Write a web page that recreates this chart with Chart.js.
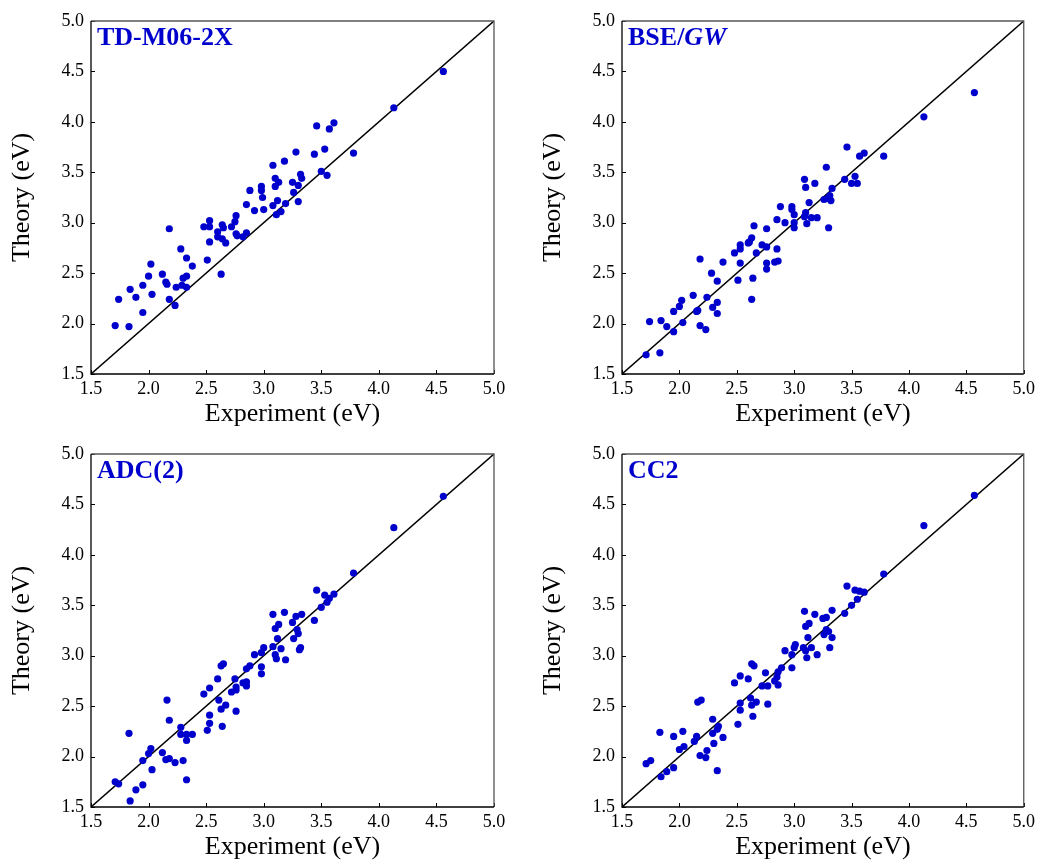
<!DOCTYPE html>
<html>
<head>
<meta charset="utf-8">
<script src="https://cdn.jsdelivr.net/npm/chart.js@4.4.1/dist/chart.umd.min.js"></script>
<style>
  html, body { margin: 0; padding: 0; background: #fff; overflow: hidden; }
  body { width: 1039px; height: 863px; position: relative; }
  canvas { position: absolute; }
</style>
</head>
<body>
<canvas id="c1" width="520" height="432" style="left:0;top:0"></canvas>
<canvas id="c2" width="508" height="432" style="left:531px;top:0"></canvas>
<canvas id="c3" width="520" height="432" style="left:0;top:433px"></canvas>
<canvas id="c4" width="508" height="432" style="left:531px;top:433px"></canvas>
<script>
// ================= DATA =================
// [experiment, theory] pairs in eV
const tdM062x = [
  [4.56,4.50],[4.13,4.14],[3.46,3.96],[3.61,3.99],[3.57,3.93],[3.78,3.69],[3.53,3.73],[3.44,3.68],
  [3.28,3.70],[3.18,3.61],[3.08,3.57],[3.50,3.51],[3.55,3.47],[3.32,3.48],[3.33,3.44],[3.10,3.44],
  [3.13,3.40],[3.25,3.40],[3.30,3.37],[2.98,3.36],[2.88,3.32],[2.98,3.32],[3.10,3.36],[3.26,3.30],
  [2.99,3.25],[3.12,3.22],[3.30,3.21],[2.85,3.18],[3.08,3.17],[3.19,3.19],[2.92,3.12],[3.00,3.13],
  [3.15,3.11],[3.11,3.08],[2.76,3.07],[2.75,3.01],[2.53,3.02],[2.48,2.96],[2.53,2.96],[2.64,2.98],
  [2.65,2.95],[2.72,2.96],[2.18,2.94],[2.60,2.91],[2.76,2.89],[2.77,2.87],[2.85,2.90],[2.82,2.86],
  [2.60,2.86],[2.64,2.84],[2.67,2.80],[2.53,2.81],[2.28,2.74],[2.33,2.65],[2.51,2.63],[2.02,2.59],
  [2.38,2.57],[2.12,2.49],[2.63,2.49],[2.00,2.47],[2.33,2.47],[2.30,2.45],[2.15,2.41],[2.16,2.39],
  [1.95,2.38],[1.84,2.34],[2.24,2.36],[2.29,2.38],[2.33,2.36],[2.03,2.29],[1.89,2.26],[1.74,2.24],
  [2.18,2.24],[2.23,2.18],[1.95,2.11],[1.71,1.98],[1.83,1.97]
];
const bseGw = [
  [4.57,4.29],[4.13,4.05],[3.46,3.75],[3.61,3.69],[3.57,3.66],[3.78,3.66],[3.28,3.55],[3.09,3.43],
  [3.44,3.43],[3.53,3.46],[3.50,3.39],[3.55,3.39],[3.18,3.39],[3.10,3.35],[3.33,3.34],[3.31,3.27],
  [3.26,3.23],[3.32,3.22],[3.29,3.24],[3.13,3.20],[2.88,3.16],[2.98,3.16],[2.98,3.13],[3.00,3.08],
  [3.10,3.10],[3.09,3.06],[3.15,3.05],[3.20,3.05],[2.85,3.03],[2.92,3.00],[3.00,3.00],[3.00,2.95],
  [3.11,2.99],[3.30,2.95],[2.65,2.97],[2.76,2.94],[2.63,2.85],[2.61,2.81],[2.60,2.80],[2.53,2.78],
  [2.53,2.74],[2.72,2.78],[2.76,2.76],[2.85,2.74],[2.48,2.70],[2.67,2.70],[2.18,2.64],[2.38,2.61],
  [2.53,2.60],[2.76,2.60],[2.83,2.61],[2.86,2.62],[2.76,2.54],[2.28,2.50],[2.33,2.42],[2.51,2.43],
  [2.64,2.45],[2.12,2.28],[2.24,2.26],[2.02,2.23],[2.00,2.17],[2.63,2.24],[2.33,2.21],[2.29,2.16],
  [2.16,2.13],[2.15,2.12],[1.95,2.12],[2.33,2.10],[1.74,2.02],[1.84,2.03],[2.03,2.01],[1.89,1.97],
  [2.18,1.98],[2.23,1.94],[1.95,1.92],[1.71,1.69],[1.83,1.71]
];
const adc2 = [
  [4.56,4.58],[4.13,4.27],[3.78,3.82],[3.46,3.65],[3.53,3.60],[3.61,3.61],[3.57,3.57],[3.55,3.53],
  [3.50,3.48],[3.44,3.35],[3.08,3.41],[3.18,3.43],[3.28,3.39],[3.33,3.41],[3.25,3.33],[3.13,3.31],
  [3.10,3.27],[3.29,3.26],[3.30,3.22],[3.26,3.17],[3.12,3.17],[3.08,3.09],[3.00,3.08],[3.15,3.07],
  [3.32,3.08],[3.31,3.06],[2.98,3.03],[2.92,3.01],[3.10,3.01],[3.11,2.97],[3.19,2.96],[2.88,2.90],
  [2.85,2.87],[2.98,2.89],[2.63,2.90],[2.65,2.92],[2.98,2.82],[2.60,2.77],[2.75,2.77],[2.82,2.73],
  [2.85,2.74],[2.85,2.70],[2.53,2.68],[2.48,2.62],[2.76,2.69],[2.76,2.66],[2.72,2.64],[2.16,2.56],
  [2.61,2.56],[2.67,2.51],[2.63,2.47],[2.76,2.45],[2.53,2.41],[2.18,2.36],[2.53,2.33],[2.64,2.30],
  [2.28,2.29],[2.51,2.26],[1.83,2.23],[2.28,2.22],[2.33,2.22],[2.38,2.22],[2.33,2.16],[2.02,2.08],
  [2.00,2.03],[2.12,2.04],[1.95,1.96],[2.15,1.97],[2.18,1.98],[2.23,1.94],[2.30,1.96],[2.03,1.87],
  [1.71,1.75],[1.74,1.73],[2.33,1.77],[1.95,1.72],[1.89,1.67],[1.84,1.56]
];
const cc2 = [
  [4.57,4.59],[4.13,4.29],[3.78,3.81],[3.46,3.69],[3.53,3.65],[3.57,3.64],[3.61,3.63],[3.55,3.56],
  [3.50,3.50],[3.44,3.42],[3.09,3.44],[3.33,3.45],[3.18,3.41],[3.25,3.37],[3.28,3.38],[3.13,3.32],
  [3.10,3.29],[3.28,3.26],[3.30,3.24],[3.26,3.21],[3.12,3.18],[3.33,3.18],[3.01,3.11],[3.00,3.08],
  [3.08,3.08],[3.15,3.08],[3.31,3.08],[2.92,3.05],[3.10,3.05],[2.98,3.01],[3.20,3.01],[3.11,2.98],
  [2.63,2.92],[2.65,2.90],[2.89,2.88],[2.98,2.88],[2.75,2.83],[2.86,2.84],[2.85,2.79],[2.53,2.80],
  [2.60,2.77],[2.83,2.75],[2.48,2.73],[2.86,2.71],[2.72,2.70],[2.77,2.70],[2.16,2.54],[2.19,2.56],
  [2.62,2.58],[2.67,2.54],[2.53,2.53],[2.63,2.51],[2.77,2.52],[2.53,2.46],[2.64,2.40],[2.29,2.37],
  [2.51,2.32],[2.34,2.30],[2.33,2.27],[2.29,2.23],[1.83,2.24],[2.03,2.25],[1.95,2.20],[2.15,2.20],
  [2.38,2.19],[2.13,2.15],[2.30,2.13],[2.04,2.10],[2.00,2.07],[2.24,2.06],[2.18,2.01],[2.23,1.99],
  [1.75,1.96],[1.71,1.93],[1.95,1.89],[1.89,1.85],[1.84,1.80],[2.33,1.86]
];
const axisMin = 1.5;
const axisMax = 5.0;
const axisStep = 0.5;

const FONT = '"Liberation Serif", "Times New Roman", serif';
const BLUE = '#0000CD';

// ================= FRAME / TICKS / LABEL PLUGIN =================
const framePlugin = {
  id: 'frame',
  afterDraw(chart, args, opts) {
    const { ctx, chartArea: a, scales } = chart;
    ctx.save();
    // inward tick marks
    ctx.strokeStyle = '#000';
    ctx.lineWidth = 1;
    ctx.beginPath();
    scales.x.ticks.forEach(t => {
      const px = Math.round(scales.x.getPixelForValue(t.value)) + 0.5;
      ctx.moveTo(px, a.bottom);
      ctx.lineTo(px, a.bottom - 4);
    });
    scales.y.ticks.forEach(t => {
      const py = Math.round(scales.y.getPixelForValue(t.value)) + 0.5;
      ctx.moveTo(a.left, py);
      ctx.lineTo(a.left + 4, py);
    });
    ctx.stroke();
    // box
    ctx.lineWidth = 1.3;
    ctx.strokeStyle = '#555';
    ctx.beginPath();
    ctx.moveTo(a.left, a.top);
    ctx.lineTo(a.right, a.top);
    ctx.lineTo(a.right, a.bottom);
    ctx.stroke();
    ctx.strokeStyle = '#000';
    ctx.beginPath();
    ctx.moveTo(a.left, a.top);
    ctx.lineTo(a.left, a.bottom);
    ctx.lineTo(a.right, a.bottom);
    ctx.stroke();
    // method label
    ctx.fillStyle = BLUE;
    ctx.textBaseline = 'alphabetic';
    ctx.textAlign = 'left';
    let tx = a.left + 6;
    const ty = a.top + 24;
    (opts.label || []).forEach(part => {
      ctx.font = (part.italic ? 'italic ' : '') + 'bold 26px ' + FONT;
      ctx.fillText(part.text, tx, ty);
      tx += ctx.measureText(part.text).width;
    });
    ctx.restore();
  }
};

function makePanel(id, points, label, rightPad) {
  const ctx = document.getElementById(id).getContext('2d');
  return new Chart(ctx, {
    type: 'scatter',
    data: {
      datasets: [
        {
          type: 'line',
          data: [{ x: axisMin, y: axisMin }, { x: axisMax, y: axisMax }],
          borderColor: '#000',
          borderWidth: 1.5,
          pointRadius: 0,
          fill: false,
          order: 2
        },
        {
          data: points.map(p => ({ x: p[0], y: p[1] })),
          backgroundColor: BLUE,
          borderWidth: 0,
          pointRadius: 3.6,
          order: 1
        }
      ]
    },
    options: {
      responsive: false,
      animation: false,
      events: [],
      layout: { padding: { top: 21, right: rightPad, left: 0, bottom: 0 } },
      plugins: {
        legend: { display: false },
        tooltip: { enabled: false },
        frame: { label: label }
      },
      scales: {
        x: {
          type: 'linear',
          min: axisMin, max: axisMax,
          grid: { display: false, drawTicks: false },
          border: { display: false },
          ticks: {
            stepSize: axisStep,
            padding: 4,
            color: '#000',
            font: { family: FONT, size: 18 },
            callback: v => v.toFixed(1)
          },
          title: {
            display: true,
            text: 'Experiment (eV)',
            color: '#000',
            font: { family: FONT, size: 26 },
            padding: { top: 0, bottom: 2 }
          },
          afterFit: s => { s.height = 58; }
        },
        y: {
          type: 'linear',
          min: axisMin, max: axisMax,
          grid: { display: false, drawTicks: false },
          border: { display: false },
          ticks: {
            stepSize: axisStep,
            padding: 7,
            color: '#000',
            font: { family: FONT, size: 18 },
            callback: v => v.toFixed(1)
          },
          title: {
            display: true,
            text: 'Theory (eV)',
            color: '#000',
            font: { family: FONT, size: 26 },
            padding: { top: 7, bottom: 0 }
          },
          afterFit: s => { s.width = 91; }
        }
      }
    },
    plugins: [framePlugin]
  });
}

// ================= BUILD PANELS =================
makePanel('c1', tdM062x, [{ text: 'TD-M06-2X' }], 26);
makePanel('c2', bseGw, [{ text: 'BSE/' }, { text: 'GW', italic: true }], 14);
makePanel('c3', adc2, [{ text: 'ADC(2)' }], 26);
makePanel('c4', cc2, [{ text: 'CC2' }], 14);
</script>
</body>
</html>
